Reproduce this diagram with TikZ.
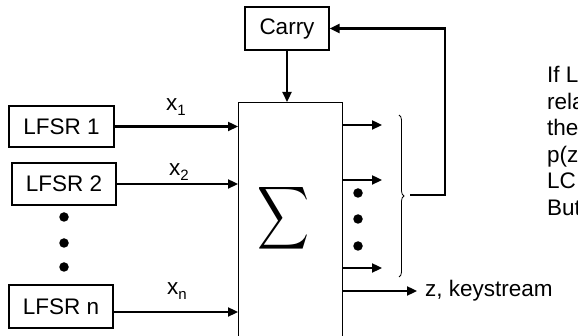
\documentclass[tikz,border=0pt]{standalone}
\usepackage{fontspec}
\setmainfont{Liberation Sans}
\usetikzlibrary{arrows.meta,decorations.pathreplacing}
\newcommand\lsub[1]{\raisebox{-5pt}{\fontsize{15}{15}\selectfont #1}}
\begin{document}
\begin{tikzpicture}[x=1pt,y=-1pt,
  box/.style={draw,line width=1.2pt,inner sep=0pt,font=\fontsize{22.5}{26}\selectfont},
  lab/.style={inner sep=0pt,font=\fontsize{22.5}{26}\selectfont},
  rtxt/.style={lab,anchor=base west},
  arr/.style={line width=2.3pt,-{Triangle[length=10pt,width=9pt]}},
  dot/.style={circle,fill,inner sep=0pt,minimum size=9.5pt}]
\useasboundingbox (0,0) rectangle (578,336);
\clip (0,0) rectangle (578,336);
% boxes
\node[box,minimum width=84pt,minimum height=43pt] (carry) at (287,28.5) {Carry};
\node[box,minimum width=104pt,minimum height=243pt,anchor=north west] (sum) at (238,102) {};
\node (sig) at (283,218) {\scalebox{3.6}[4.4]{$\displaystyle\sum$}};
\node[box,minimum width=105pt,minimum height=41pt] (l1) at (61.5,126.5) {LFSR 1};
\node[box,minimum width=104pt,minimum height=42pt] (l2) at (64,184) {LFSR 2};
\node[box,minimum width=104pt,minimum height=43pt] (ln) at (61,306.5) {LFSR n};
% input arrows
\draw[arr] (l1.east) -- (sum.west |- l1.east);
\draw[arr] (l2.east) -- (sum.west |- l2.east);
\coordinate (inn) at (238,312);
\draw[arr] (ln.east |- inn) -- (inn);
\node[lab] (x1) at (176,107) {x\lsub{1}};
\node[lab] (x2) at (179,172) {x\lsub{2}};
\node[lab] (xn) at (177,291) {x\lsub{n}};
% left dots
\node[dot] (d1) at (64,217) {};
\node[dot] (d2) at (64,243) {};
\node[dot] (d3) at (64,267) {};
% carry to sum
\draw[arr] (carry.south) -- (sum.north -| carry.south);
% outputs
\coordinate (o1) at (382,125);
\coordinate (o2) at (382,180);
\coordinate (o3) at (382,268);
\draw[arr] (sum.east |- o1) -- (o1);
\draw[arr] (sum.east |- o2) -- (o2);
\draw[arr] (sum.east |- o3) -- (o3);
\node[dot] (e1) at (358,193) {};
\node[dot] (e2) at (358,219) {};
\node[dot] (e3) at (358,246) {};
% brace and feedback
\draw[decorate,decoration={brace,amplitude=5pt},line width=0.8pt] (399,115) -- (399,277);
\coordinate (bm) at (410,195);
\coordinate (fb) at (445,195);
\draw[arr] (bm) -- (fb) |- (carry.east);
% keystream
\coordinate (ks) at (417,291);
\draw[arr] (sum.east |- ks) -- (ks);
\node[lab,anchor=west] (kst) at (425,291) {z, keystream};
% right text (cut off at the edge, as in the original)
\node[rtxt] (t1) at (547,83) {If L};
\node[rtxt] (t2) at (547,109.5) {rela};
\node[rtxt] (t3) at (547,136) {the};
\node[rtxt] (t4) at (547,162.5) {p(z};
\node[rtxt] (t5) at (547,189) {LC};
\node[rtxt] (t6) at (547,215.5) {But};
\end{tikzpicture}
\end{document}
